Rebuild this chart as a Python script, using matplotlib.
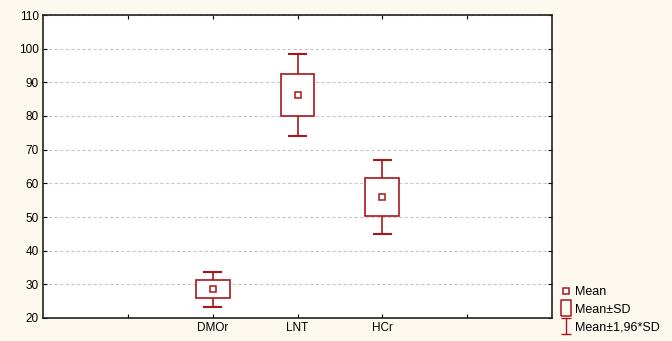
import numpy as np
import matplotlib
matplotlib.use('Agg')
import matplotlib.pyplot as plt
from matplotlib.lines import Line2D
from matplotlib.patches import Rectangle
from matplotlib.path import Path

# Datos
categorias = ['DMOr', 'LNT', 'HCr']
medias = [28.5, 86.2, 56.0]
desv = [2.7, 6.2, 5.6]
posiciones = [2, 3, 4]

rojo = '#A8161C'
fondo = '#FDF9EE'

plt.rcParams['font.family'] = ['Liberation Sans Narrow', 'Liberation Sans', 'DejaVu Sans']
plt.rcParams['font.size'] = 8.5

fig = plt.figure(figsize=(6.72, 3.41), dpi=100, facecolor=fondo)
ax = fig.add_axes([43 / 672, 1 - 318 / 341, (552 - 43) / 672, (318 - 15) / 341])
ax.set_facecolor('white')

ancho = 0.4
cap = 0.2
for x, m, s in zip(posiciones, medias, desv):
    # bigote Mean +- 1.96*SD
    ax.plot([x, x], [m - 1.96 * s, m + 1.96 * s], color=rojo, lw=1.2, zorder=2)
    ax.plot([x - cap / 2, x + cap / 2], [m + 1.96 * s] * 2, color=rojo, lw=1.5, zorder=2)
    ax.plot([x - cap / 2, x + cap / 2], [m - 1.96 * s] * 2, color=rojo, lw=1.5, zorder=2)
    # caja Mean +- SD
    ax.add_patch(Rectangle((x - ancho / 2, m - s), ancho, 2 * s, facecolor='white',
                           edgecolor=rojo, lw=1.2, zorder=3))
    ax.plot(x, m, marker='s', ms=4, mfc='white', mec=rojo, mew=1.1, zorder=4)

ax.set_xlim(0, 6)
ax.set_ylim(20, 110)
ax.set_xticks([1, 2, 3, 4, 5])
ax.set_xticklabels(['', 'DMOr', 'LNT', 'HCr', ''])
ax.set_yticks(np.arange(20, 111, 10))
ax.yaxis.grid(True, linestyle=(0, (3, 2)), color='#C8C8C8', lw=0.8)
ax.set_axisbelow(True)
ax.tick_params(direction='in', length=3, width=0.8, top=True, right=True, pad=3)
for sp in ax.spines.values():
    sp.set_linewidth(1.2)
    sp.set_color('#222222')

# leyenda
caja = Path([(-0.55, -1), (0.55, -1), (0.55, 1), (-0.55, 1), (-0.55, -1)])
barra = Path([(0, -1), (0, 1), (-0.6, 1), (0.6, 1), (-0.6, -1), (0.6, -1)],
             [Path.MOVETO, Path.LINETO, Path.MOVETO, Path.LINETO, Path.MOVETO, Path.LINETO])
h_mean = Line2D([], [], ls='none', marker='s', ms=4, mfc='white', mec=rojo, mew=1.1)
h_sd = Line2D([], [], ls='none', marker=caja, ms=12, mfc='none', mec=rojo, mew=1.1)
h_ci = Line2D([], [], ls='none', marker=barra, ms=11, mfc='none', mec=rojo, mew=1.0)
fig.legend([h_mean, h_sd, h_ci], ['Mean', 'Mean±SD', 'Mean±1,96*SD'],
           loc='upper left', bbox_to_anchor=(556 / 672, 1 - 281 / 341), frameon=False,
           handlelength=0.8, handletextpad=0.3, labelspacing=0.45, borderaxespad=0,
           fontsize=9)

fig.savefig('out.png', dpi=100, facecolor=fondo)
